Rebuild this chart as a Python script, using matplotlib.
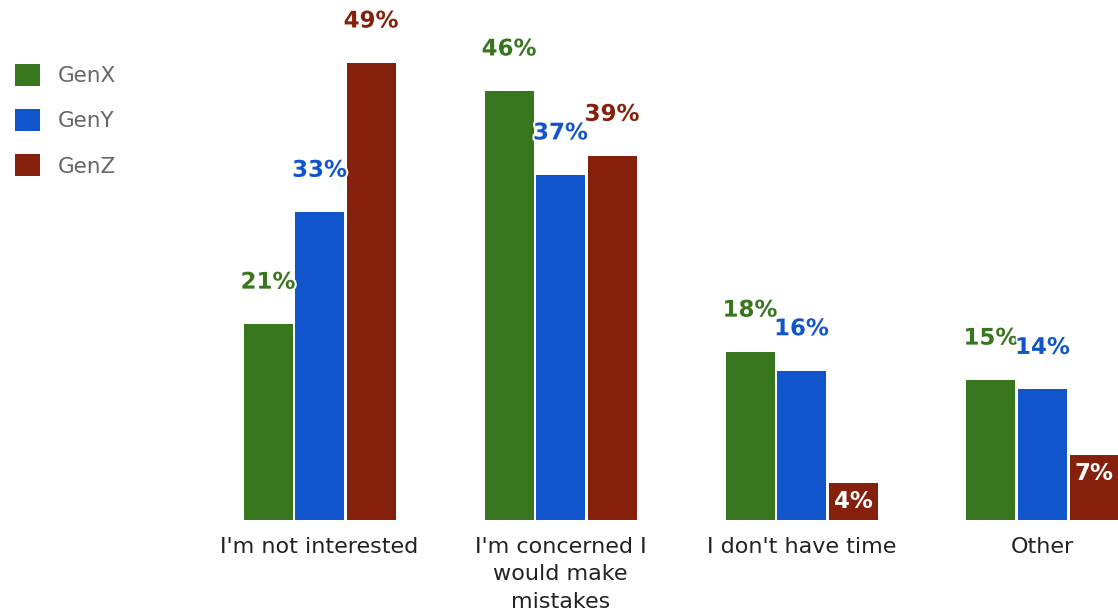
import matplotlib
matplotlib.use("Agg")
import matplotlib.pyplot as plt
import matplotlib.patheffects as pe
import numpy as np

categories = ["I'm not interested", "I'm concerned I\nwould make\nmistakes",
              "I don't have time", "Other"]
series = ["GenX", "GenY", "GenZ"]
genx = [21, 46, 18, 15]
geny = [33, 37, 16, 14]
genz = [49, 39, 4, 7]
colors = ["#38761d", "#1155cc", "#85200c"]

W, H = 1118, 612
fig = plt.figure(figsize=(W / 100, H / 100), dpi=100)
fig.patch.set_facecolor("white")

# axes spans from x=200px to the right edge, baseline at y=520px
ax = fig.add_axes([200 / W, 1 - 520 / H, (W - 200) / W, 520 / H])
ax.set_facecolor("white")

group_px = 241.0
bar_w = 49 / group_px
step = 51.5 / group_px
x = np.arange(len(categories))

ax.set_xlim(-(119.5 / group_px), (W - 319.5) / group_px)
px_per_unit = 457 / 49
ax.set_ylim(0, 520 / px_per_unit)

above = 42 / px_per_unit
inside = 19 / px_per_unit
for i, (name, vals, col) in enumerate(zip(series, [genx, geny, genz], colors)):
    xs = x + (i - 1) * step
    ax.bar(xs, vals, width=bar_w, color=col, label=name, linewidth=0)
    for xi, v in zip(xs, vals):
        if v < 10:
            ax.text(xi, v - inside, f"{v}%", ha="center", va="center",
                    color="white", fontsize=16.5, fontweight="bold",
                    family="DejaVu Sans")
        else:
            ax.text(xi, v + above, f"{v}%", ha="center", va="center",
                    color=col, fontsize=16.5, fontweight="bold",
                    family="DejaVu Sans",
                    path_effects=[pe.withStroke(linewidth=3, foreground="white")])

ax.set_xticks(x)
ax.set_xticklabels(categories, fontsize=16, family="DejaVu Sans", color="#222222",
                   linespacing=1.48, va="top")
ax.tick_params(axis="x", length=0, pad=12)
ax.set_yticks([])
for s in ax.spines.values():
    s.set_visible(False)

leg = fig.legend(loc="upper left", bbox_to_anchor=(6 / W, 1 - 55 / H),
                 frameon=False, prop={"family": "DejaVu Sans", "size": 15.5},
                 handlelength=1.2, handleheight=1.2, handletextpad=0.8,
                 labelspacing=1.07, borderaxespad=0, borderpad=0.4)
for t in leg.get_texts():
    t.set_color("#666666")

fig.savefig("out.png", dpi=100, facecolor="white")
